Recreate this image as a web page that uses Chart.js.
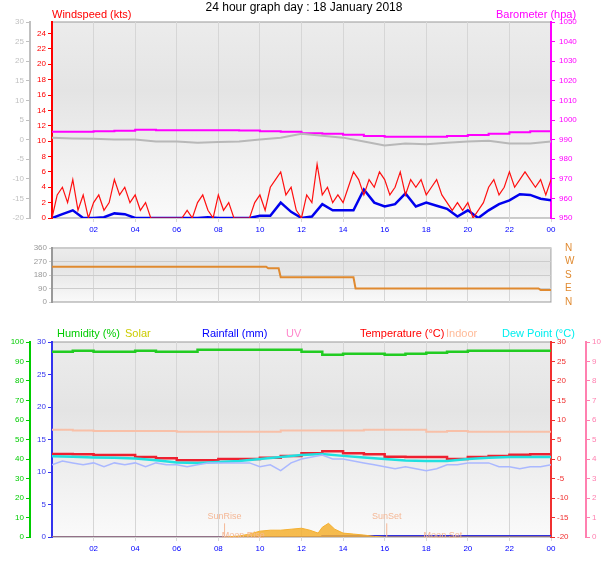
<!DOCTYPE html>
<html><head><meta charset="utf-8">
<script src="https://cdn.jsdelivr.net/npm/chart.js@4"></script>
<style>
body{margin:0;background:#fff;font-family:"Liberation Sans",Arial,sans-serif;}
canvas{position:absolute;left:0;}
.t{position:absolute;font-size:11px;white-space:nowrap;}
</style></head><body>
<canvas id="c1" style="top:0px" width="608" height="238"></canvas>
<canvas id="c2" style="top:236px" width="608" height="78"></canvas>
<canvas id="c3" style="top:320px" width="608" height="241"></canvas>
<div class="t" style="left:0;width:608px;text-align:center;top:0;font-size:12px">24 hour graph day : 18 January 2018</div>
<div class="t" style="left:52px;top:8px;color:#f00">Windspeed (kts)</div>
<div class="t" style="left:496px;top:8px;color:#f0f">Barometer (hpa)</div>
<div class="t" style="left:57px;top:327px;color:#0c0">Humidity (%)</div>
<div class="t" style="left:125px;top:327px;color:#cc0">Solar</div>
<div class="t" style="left:202px;top:327px;color:#00f">Rainfall (mm)</div>
<div class="t" style="left:286px;top:327px;color:#f8c">UV</div>
<div class="t" style="left:360px;top:327px;color:#f00">Temperature (°C)</div>
<div class="t" style="left:446px;top:327px;color:#fb9">Indoor</div>
<div class="t" style="left:502px;top:327px;color:#0ee">Dew Point (°C)</div>
<script>
// hours 0..24
const hourTicks = [2,4,6,8,10,12,14,16,18,20,22,24];
const windTicks = [0,2,4,6,8,10,12,14,16,18,20,22,24];

// wind gust, every 15 min
const gust = [0,3,4,2, 5,1,3,0, 2,3,1,2, 5,3,4,2, 3,1,2,0, 0,0,0,0, 0,0,1,0, 2,3,1,0,
  3,1,2,0, 0,0,0,2, 3,1,4,5, 6,3,4,1, 0,3,2,7, 3,4,2,3, 2,4,6,5, 3,5,4,6,
  5,3,4,6, 3,5,4,5, 3,4,5,3, 2,1,2,1, 2,0,1,2, 4,5,3,4, 6,4,5,6, 5,4,5,3, 5];
// average wind, every 30 min
const avgWind = [0,0.5,1,0,0,0.1,0.6,0.5,0,0,0,0,0,0,0,0.1,0,0,0,0,0.3,0.3,2,0.8,0,0.2,1.8,1,1,1,
  3.7,2,1.5,1.8,3.2,1.5,2,1.6,1.2,0.2,1,0,1,1.8,2.3,3.1,3,2.5,2.3];
// barometer, hourly
const baro = [994,994,994.3,994.5,995,994.8,994.8,994.8,994.8,994.6,994.2,994,993.3,993,992.5,
  991.8,991.5,991.5,991.5,991.8,992.3,993,993.7,994.3,995];
// grey trace on outer axis, hourly
const greyLine = [0.5,0.3,0.2,0,0,-0.5,-0.5,-0.8,-0.6,-0.5,0,0.5,1.5,1,0.5,-0.5,-1.5,-1,-1.2,-0.8,-0.5,-0.3,-1,-1,-0.5];
// wind direction
const dirTimes = [0,10.3,10.4,10.9,11.0,14.5,14.6,23.4,23.5,24];
const dirVals = [235,235,225,225,165,165,90,90,80,80];
// bottom panel, hourly
const humidity = [95,95.5,95,95,95.5,95,95,96,96,96,96,96,95,93.5,94,94,93.5,94,94.5,95,95.5,95.5,95.5,95.5,95.5];
const indoor = [7.5,7.3,7.2,7.2,7.2,7.2,7,7,7,7,7,7.3,7.3,7.3,7.3,7.5,7.5,7.5,7,7.2,7,7,7,7,7];
const temperature = [1.3,1.2,1,1,0.5,0.2,-0.3,-0.3,0,0,0.3,0.8,1.5,2,1.5,1.2,0.6,0.5,0.5,0,0.5,0.8,1.1,1.2,1.3];
const dewPoint = [0.7,0.6,0.4,0.3,0.1,-0.3,-0.9,-1,-0.8,-0.5,0,0.5,1,1.3,0.8,0.4,0,-0.4,-0.5,-0.5,0,0.3,0.5,0.5,0.5];
const apparent = [-1.5,-0.5,-1,-1.5,-1,-2,-1,-1.5,-1,-2,-1,-1.5,-1.5,-2,-1.5,-1,-1,-1,-1,-1,-2,-1.5,-3,-1,0,0.5,
  1,0,0,-0.5,-1,-1.5,-2,-2.5,-2,-2.5,-3,-2.5,-1.5,-1.5,-1,-1,-1,-2,-2,-2.5,-2,-2,-1.5];
const solarTimes = [0,8.3,9,9.5,10,10.5,11,11.5,12,12.4,12.8,13,13.3,13.6,14,14.5,15,15.5,16,24];
const solarVals = [0,0,0.5,1.5,3,3.5,3.5,4,4.5,3.5,2,5,7,4,2,1.5,1,0.3,0,0];
const rainTimes = [0,12.9,13,24];
const rainVals = [0,0,0.15,0.15];

const step = (arr, dt) => arr.map((v, i) => ({x: i * dt, y: v}));
const pair = (xs, ys) => xs.map((x, i) => ({x: x, y: ys[i]}));
const fnt = {family: "Liberation Sans", size: 8};

const bgPlugin = {
  id: "bg",
  beforeDraw: (chart) => {
    let a = chart.chartArea, c = chart.ctx;
    let g = c.createLinearGradient(0, a.top, 0, a.bottom);
    g.addColorStop(0, "#ececec"); g.addColorStop(0.35, "#e4e4e4"); g.addColorStop(1, "#fafafa");
    c.save(); c.fillStyle = g; c.fillRect(a.left, a.top, a.right - a.left, a.bottom - a.top);
    c.strokeStyle = "#999"; c.strokeRect(a.left, a.top, a.right - a.left, a.bottom - a.top); c.restore();
  }
};

let yAxis = (pos, w, weight, min, max, stepSize, color, extra = {}) => Object.assign({
  position: pos, weight: weight, min: min, max: max,
  afterFit: (s) => { s.width = w; },
  grid: {drawOnChartArea: false, color: color, tickLength: 4},
  border: {color: color, width: 2},
  ticks: {stepSize: stepSize, color: color, font: fnt, padding: 2, autoSkip: false}
}, extra);

let xAxis = (showLabels, h) => ({
  type: "linear", min: 0, max: 24,
  afterBuildTicks: (s) => { s.ticks = hourTicks.map((v) => ({value: v})); },
  afterFit: (s) => { s.height = h; },
  grid: {color: "#d6d6d6", tickLength: showLabels ? 4 : 0},
  border: {display: false},
  ticks: {display: showLabels, color: "#00f", font: fnt, maxRotation: 0, autoSkip: false,
    callback: (v) => String(v % 24).padStart(2, "0")}
});

let line = (data, color, axis, w, extra = {}) => Object.assign({
  data: data, borderColor: color, borderWidth: w, pointRadius: 0, yAxisID: axis, tension: 0
}, extra);

const base = {animation: false, responsive: false, plugins: {legend: {display: false}, tooltip: {enabled: false}}};

new Chart(document.getElementById("c1"), {
  type: "line",
  data: {datasets: [
    line(step(greyLine, 1), "#b8b8b8", "yG", 2),
    line(step(baro, 1), "#f0f", "yB", 2, {stepped: true}),
    line(step(gust, 0.25), "#ff1010", "yW", 1.2),
    line(step(avgWind, 0.5), "#0000ee", "yW", 2.5)
  ]},
  options: Object.assign({}, base, {
    layout: {padding: {top: 22}},
    scales: {
      x: xAxis(true, 20),
      yG: yAxis("left", 30, 2, -20, 30, 5, "#c0c0c0"),
      yW: yAxis("left", 22, 1, 0, 25.5, 2, "#f00", {
        afterBuildTicks: (s) => { s.ticks = windTicks.map((v) => ({value: v})); }}),
      yB: yAxis("right", 57, 1, 950, 1050, 10, "#f0f", {ticks: {stepSize: 10, color: "#f0f", font: fnt, padding: 4, autoSkip: false, callback: (v) => v}})
    }
  }),
  plugins: [bgPlugin]
});

const dirLabels = ["N", "E", "S", "W", "N"];
new Chart(document.getElementById("c2"), {
  type: "line",
  data: {datasets: [line(pair(dirTimes, dirVals), "#e08a30", "yD", 2)]},
  options: Object.assign({}, base, {
    layout: {padding: {top: 7, bottom: 5}},
    scales: {
      x: xAxis(false, 0),
      yD: yAxis("left", 52, 1, 0, 360, 90, "#999", {grid: {color: "#cccccc", tickLength: 3}}),
      yC: yAxis("right", 57, 1, 0, 360, 90, "#e08a30", {border: {display: false}, grid: {display: false},
        ticks: {stepSize: 90, color: "#e08a30", font: {family: "Liberation Sans", size: 10}, padding: 6, autoSkip: false,
          callback: (v) => dirLabels[v / 90]}})
    }
  }),
  plugins: [bgPlugin]
});

const sunPlugin = {
  id: "sun",
  afterDatasetsDraw: (chart) => {
    let c = chart.ctx, x = chart.scales.x, y = chart.scales.yH;
    c.save(); c.fillStyle = "#f5b896"; c.strokeStyle = "#f5b896"; c.font = "9px Liberation Sans"; c.textAlign = "center";
    [[8.3, "SunRise"], [16.1, "SunSet"]].forEach(([t, s]) => {
      c.fillText(s, x.getPixelForValue(t), y.getPixelForValue(9));
      c.beginPath(); c.moveTo(x.getPixelForValue(t), y.getPixelForValue(7)); c.lineTo(x.getPixelForValue(t), y.getPixelForValue(0)); c.stroke();
    });
    c.fillText("Moon Rise", x.getPixelForValue(9.2), y.getPixelForValue(-0.5));
    c.fillText("Moon Set", x.getPixelForValue(18.8), y.getPixelForValue(-0.5));
    c.restore();
  }
};

new Chart(document.getElementById("c3"), {
  type: "line",
  data: {datasets: [
    line(pair(solarTimes, solarVals), "#f5b030", "yH", 1, {fill: "origin", backgroundColor: "rgba(245,176,48,0.85)"}),
    line(pair(rainTimes, rainVals), "#3030dd", "yR", 2, {stepped: true}),
    line(step(apparent, 0.5), "#aab8ff", "yT", 1.5),
    line(step(indoor, 1), "#f8c0a8", "yT", 2, {stepped: true}),
    line(step(dewPoint, 1), "#20e0e0", "yT", 2.5),
    line(step(temperature, 1), "#ee2030", "yT", 2.5, {stepped: true}),
    line(step(humidity, 1), "#22cc22", "yH", 2.5, {stepped: true})
  ]},
  options: Object.assign({}, base, {
    layout: {padding: {top: 22}},
    scales: {
      x: xAxis(true, 24),
      yH: yAxis("left", 30, 2, 0, 100, 10, "#0c0"),
      yR: yAxis("left", 22, 1, 0, 30, 5, "#3333ee"),
      yT: yAxis("right", 35, 1, -20, 30, 5, "#f03030"),
      yU: yAxis("right", 22, 2, 0, 10, 1, "#ff80b0")
    }
  }),
  plugins: [bgPlugin, sunPlugin]
});
</script>
</body></html>
